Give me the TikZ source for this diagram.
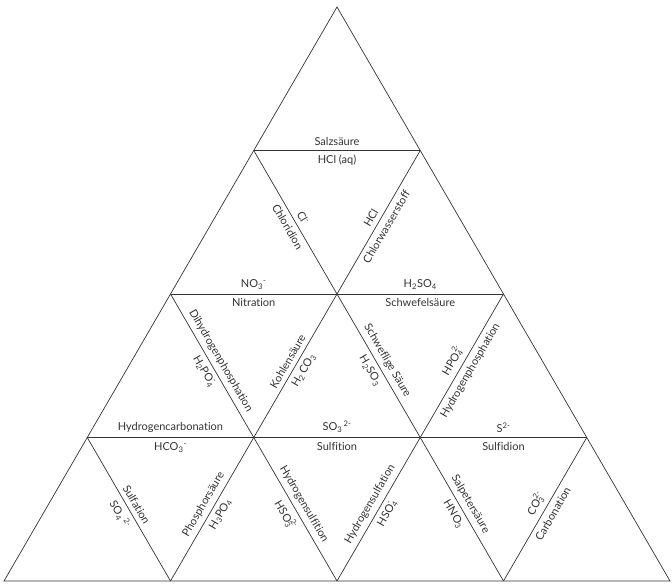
\documentclass[tikz,border=0pt]{standalone}
\usepackage{fontspec}
\setmainfont[Ligatures=NoCommon]{Lato}
\newcommand{\ionseq}[2]{\textsubscript{#1}\textsuperscript{#2}}
\newcommand{\ionstk}[2]{\rlap{\textsubscript{#1}}\raisebox{1.2pt}{\textsuperscript{#2}}}
\begin{document}
\begin{tikzpicture}[x=1pt,y=-1pt]
        \tikzstyle{lbl}=[font=\fontsize{11}{13}\selectfont,inner sep=4.5pt,sloped]
        \tikzstyle{edge}=[draw, line width=0.7pt, black!80]
        \useasboundingbox (0,0) rectangle (672,586);
       \begin{scope}
         % corners of the grid
         \coordinate (v00) at (337,7);
         \coordinate (v10) at (253.75,150.5);
         \coordinate (v11) at (420.25,150.5);
         \coordinate (v20) at (170.5,294);
         \coordinate (v21) at (337,294);
         \coordinate (v22) at (503.5,294);
         \coordinate (v30) at (87.25,437.5);
         \coordinate (v31) at (253.75,437.5);
         \coordinate (v32) at (420.25,437.5);
         \coordinate (v33) at (586.75,437.5);
         \coordinate (v40) at (4,581);
         \coordinate (v41) at (170.5,581);
         \coordinate (v42) at (337,581);
         \coordinate (v43) at (503.5,581);
         \coordinate (v44) at (670,581);
         \path[edge] (v00) -- (v40) -- (v44) -- cycle;
         % horizontal edges
         \path[edge] (v10) edge node[lbl,above] (h1a) {Salzsäure} node[lbl,below] (h1b) {HCl (aq)} (v11);
         \path[edge] (v20) edge node[lbl,above] (h2a) {NO\ionseq{3}{-}} node[lbl,below] (h2b) {Nitration} (v21);
         \path[edge] (v21) edge node[lbl,above] (h3a) {H\textsubscript{2}SO\textsubscript{4}} node[lbl,below] (h3b) {Schwefelsäure} (v22);
         \path[edge] (v30) edge node[lbl,above] (h4a) {Hydrogencarbonation} node[lbl,below] (h4b) {HCO\ionseq{3}{-}} (v31);
         \path[edge] (v31) edge node[lbl,above] (h5a) {SO\ionseq{3}{\,2-}} node[lbl,below] (h5b) {Sulfition} (v32);
         \path[edge] (v32) edge node[lbl,above] (h6a) {S\textsuperscript{2-}} node[lbl,below] (h6b) {Sulfidion} (v33);
         % edges falling to the right
         \path[edge] (v10) edge node[lbl,above] (r1a) {Cl\textsuperscript{-}} node[lbl,below] (r1b) {Chloridion} (v21);
         \path[edge] (v20) edge node[lbl,above] (r2a) {Dihydrogenphosphation} node[lbl,below] (r2b) {H\textsubscript{2}PO\ionstk{4}{-}} (v31);
         \path[edge] (v21) edge node[lbl,above] (r3a) {Schweflige Säure} node[lbl,below] (r3b) {H\textsubscript{2}SO\textsubscript{3}} (v32);
         \path[edge] (v30) edge node[lbl,above] (r4a) {Sulfation} node[lbl,below] (r4b) {SO\textsubscript{4}\,\textsuperscript{2-}} (v41);
         \path[edge] (v31) edge node[lbl,above] (r5a) {Hydrogensulfition} node[lbl,below] (r5b) {HSO\ionstk{3}{2-}} (v42);
         \path[edge] (v32) edge node[lbl,above] (r6a) {Salpetersäure} node[lbl,below] (r6b) {HNO\textsubscript{3}} (v43);
         % edges rising to the right
         \path[edge] (v21) edge node[lbl,above] (l1a) {HCl} node[lbl,below] (l1b) {Chlorwasserstoff} (v11);
         \path[edge] (v31) edge node[lbl,above] (l2a) {Kohlensäure} node[lbl,below] (l2b) {H\textsubscript{2}\,CO\textsubscript{3}} (v21);
         \path[edge] (v32) edge node[lbl,above] (l3a) {HPO\ionstk{4}{2-}} node[lbl,below] (l3b) {Hydrogenphosphation} (v22);
         \path[edge] (v41) edge node[lbl,above] (l4a) {Phosphorsäure} node[lbl,below] (l4b) {H\textsubscript{3}PO\textsubscript{4}} (v31);
         \path[edge] (v42) edge node[lbl,above] (l5a) {Hydrogensulfation} node[lbl,below] (l5b) {HSO\ionstk{4}{-}} (v32);
         \path[edge] (v43) edge node[lbl,above] (l6a) {CO\ionstk{3}{2-}} node[lbl,below] (l6b) {Carbonation} (v33);
        \end{scope}
      \end{tikzpicture}
\end{document}
